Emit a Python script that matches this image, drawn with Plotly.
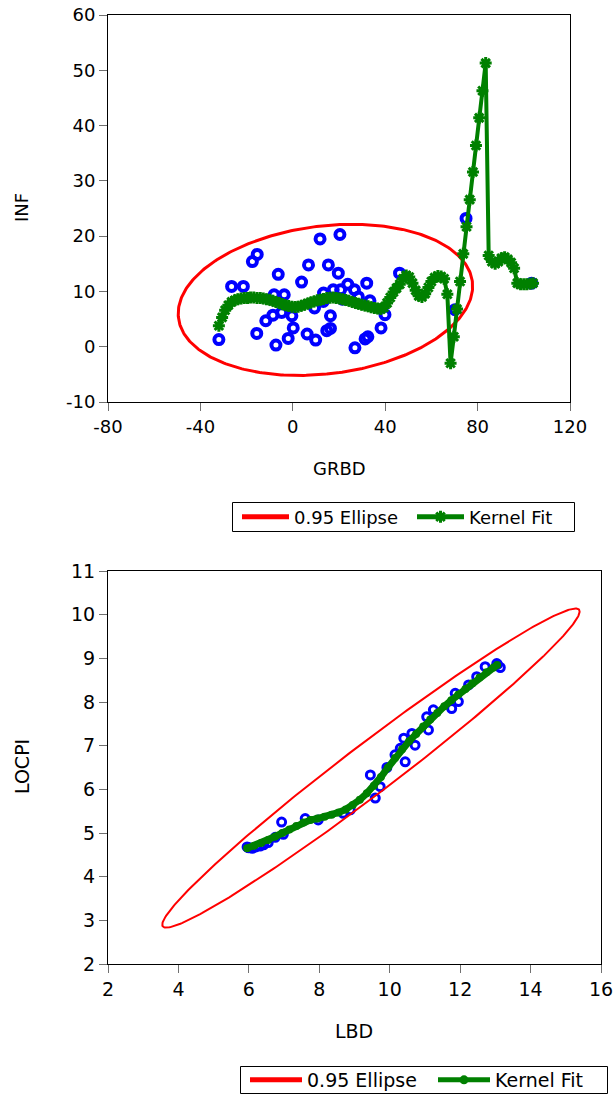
import numpy as np
import plotly.graph_objects as go

# ---------------- Top panel data (GRBD vs INF) ----------------
grbd = [-32.0, -26.5, -21.4, -17.5, -15.4, -15.6, -11.7, -8.6, -8.1, -7.3,
        -6.3, -4.8, -3.7, -2.0, -0.4, 0.2, 3.8, 6.2, 6.8, 9.4,
        9.9, 11.8, 13.3, 14.7, 15.4, 16.3, 16.3, 17.5, 19.7, 20.4,
        20.7, 23.8, 26.7, 26.9, 28.4, 31.3, 32.5, 32.0, 33.4, 38.2,
        39.9, 46.2, 70.2, 75.0, 103.4, 13.2, 21.5]
inf = [1.3, 10.9, 10.9, 15.4, 16.7, 2.4, 4.7, 5.7, 9.4, 0.3,
       13.1, 6.2, 9.4, 1.5, 5.6, 3.4, 11.7, 2.3, 14.8, 7.0,
       1.2, 19.5, 9.7, 2.9, 14.8, 3.3, 5.6, 10.3, 13.3, 20.3,
       10.3, 11.3, 10.3, -0.2, 9.0, 1.4, 1.8, 11.5, 8.3, 3.4,
       5.8, 13.3, 6.7, 23.2, 11.5, 8.2, 8.6]

kernel_x_top = [-32.0, -30.6, -29.3, -27.9, -26.5, -25.1, -23.8, -22.4, -21.0, -19.6,
                -18.3, -16.9, -15.5, -14.1, -12.8, -11.4, -10.0, -8.6, -7.3, -5.9,
                -4.5, -3.2, -1.8, -0.4, 1.0, 2.3, 3.7, 5.1, 6.5, 7.8,
                9.2, 10.6, 12.0, 13.3, 14.7, 16.1, 17.5, 18.8, 20.2, 21.6,
                22.9, 24.3, 25.7, 27.1, 28.4, 29.8, 31.2, 32.6, 33.9, 35.3,
                36.7, 38.1, 39.4, 40.8, 42.2, 43.6, 44.9, 46.3, 47.7, 49.1,
                50.4, 51.8, 53.2, 54.5, 55.9, 57.3, 58.7, 60.0, 61.4, 62.8,
                64.2, 65.5, 66.9, 68.3, 69.7, 71.1, 72.4, 73.8, 75.2, 76.6,
                78.0, 79.3, 80.7, 82.1, 83.5, 84.8, 86.2, 87.6, 89.0, 90.3,
                91.7, 93.1, 94.5, 95.8, 97.2, 98.6, 100.0, 101.3, 102.7, 104.0]
kernel_y_top = [3.8, 5.3, 6.6, 7.5, 8.1, 8.4, 8.6, 8.7, 8.8, 8.8,
                8.9, 8.9, 8.8, 8.8, 8.7, 8.6, 8.5, 8.3, 8.1, 7.9,
                7.7, 7.5, 7.35, 7.25, 7.2, 7.25, 7.4, 7.6, 7.8, 8.0,
                8.2, 8.4, 8.5, 8.65, 8.8, 8.85, 8.9, 8.8, 8.7, 8.6,
                8.45, 8.3, 8.1, 7.9, 7.75, 7.6, 7.45, 7.3, 7.15, 7.0,
                6.9, 6.8, 7.1, 7.9, 8.9, 9.9, 10.6, 11.3, 12.3, 12.9,
                12.6, 11.5, 10.2, 9.2, 9.0, 9.6, 10.7, 11.8, 12.5, 12.8,
                12.7, 12.3, 9.5, -3.0, 1.8, 6.8, 11.8, 16.8, 21.7, 26.6,
                31.6, 36.4, 41.4, 46.3, 51.3, 16.5, 15.4, 15.0, 15.4, 16.0,
                16.2, 15.8, 15.2, 14.2, 11.5, 11.3, 11.3, 11.3, 11.4, 11.5]

# ---------------- Bottom panel data (LBD vs LOCPI) ----------------
lbd = [5.95, 5.98, 6.00, 6.10, 6.20, 6.32, 6.42, 6.55, 6.75, 6.93,
       6.98, 7.60, 7.97, 8.68, 8.88, 9.45, 9.59, 9.73, 9.92, 10.15,
       10.30, 10.40, 10.44, 10.63, 10.72, 11.05, 11.10, 11.24, 11.76, 11.86,
       11.95, 12.24, 12.47, 12.71, 13.04, 13.06, 13.14]
locpi = [4.68, 4.67, 4.66, 4.65, 4.68, 4.70, 4.73, 4.78, 4.90, 5.25,
         4.97, 5.33, 5.30, 5.45, 5.53, 6.33, 5.80, 6.06, 6.50, 6.79,
         6.94, 7.17, 6.63, 7.28, 7.01, 7.66, 7.36, 7.82, 7.85, 8.20,
         8.01, 8.39, 8.58, 8.81, 8.88, 8.86, 8.79]

kernel_x_bot = [5.95, 6.15, 6.35, 6.55, 6.75, 6.95, 7.15, 7.35, 7.55, 7.75,
                7.95, 8.15, 8.35, 8.55, 8.75, 8.95, 9.15, 9.35, 9.55, 9.75,
                9.95, 10.15, 10.35, 10.55, 10.75, 10.95, 11.15, 11.35, 11.55, 11.75,
                11.95, 12.15, 12.35, 12.55, 12.75, 12.95, 13.05]
kernel_y_bot = [4.65, 4.71, 4.77, 4.84, 4.92, 5.00, 5.08, 5.16, 5.24, 5.30,
                5.33, 5.37, 5.42, 5.47, 5.54, 5.64, 5.76, 5.91, 6.08, 6.28,
                6.50, 6.72, 6.92, 7.10, 7.27, 7.44, 7.60, 7.75, 7.90, 8.04,
                8.17, 8.30, 8.43, 8.56, 8.68, 8.79, 8.85]

top_x_ticks = [-80, -40, 0, 40, 80, 120]
top_y_ticks = [-10, 0, 10, 20, 30, 40, 50, 60]
bot_x_ticks = [2, 4, 6, 8, 10, 12, 14, 16]
bot_y_ticks = [2, 3, 4, 5, 6, 7, 8, 9, 10, 11]

CHI2_95_2DF = 5.991

RED = "#FF0000"
GREEN = "#008000"
BLUE = "#0000FF"


def conf_ellipse(xs, ys, chi2=CHI2_95_2DF, n=361):
    xs = np.asarray(xs, float)
    ys = np.asarray(ys, float)
    cov = np.cov(xs, ys)
    vals, vecs = np.linalg.eigh(cov)
    t = np.linspace(0, 2 * np.pi, n)
    circ = np.vstack([np.cos(t), np.sin(t)]) * np.sqrt(vals * chi2)[:, None]
    pts = vecs @ circ
    return xs.mean() + pts[0], ys.mean() + pts[1]


def labels(vals):
    return [str(v) for v in vals]  # plain hyphen-minus like the original


W, H = 615, 1094
FONT = "DejaVu Sans, Liberation Sans, Arial, sans-serif"
FS = 18
FS2 = 19

ex1, ey1 = conf_ellipse(grbd, inf)
ex2, ey2 = conf_ellipse(lbd, locpi)

fig = go.Figure()

# ---- top panel ----
fig.add_trace(go.Scatter(x=grbd, y=inf, mode="markers", showlegend=False,
                         marker=dict(symbol="circle-open", size=9, color=BLUE,
                                     line=dict(width=4, color=BLUE)),
                         xaxis="x", yaxis="y"))
fig.add_trace(go.Scatter(x=ex1, y=ey1, mode="lines", showlegend=False,
                         line=dict(color=RED, width=3), xaxis="x", yaxis="y"))
fig.add_trace(go.Scatter(x=kernel_x_top, y=kernel_y_top, mode="lines+markers",
                         showlegend=False,
                         line=dict(color=GREEN, width=4),
                         marker=dict(symbol="asterisk-open", size=10,
                                     line=dict(width=3, color=GREEN)),
                         xaxis="x", yaxis="y"))
# legend keys (thicker strokes as in the original legend box)
fig.add_trace(go.Scatter(x=[None], y=[None], mode="lines", name="0.95 Ellipse",
                         line=dict(color=RED, width=5), legend="legend",
                         xaxis="x", yaxis="y"))
fig.add_trace(go.Scatter(x=[None], y=[None], mode="lines+markers", name="Kernel Fit",
                         line=dict(color=GREEN, width=5), legend="legend",
                         marker=dict(symbol="asterisk-open", size=10,
                                     line=dict(width=3, color=GREEN)),
                         xaxis="x", yaxis="y"))

# ---- bottom panel ----
fig.add_trace(go.Scatter(x=lbd, y=locpi, mode="markers", showlegend=False,
                         marker=dict(symbol="circle-open", size=8, color=BLUE,
                                     line=dict(width=3, color=BLUE)),
                         xaxis="x2", yaxis="y2"))
fig.add_trace(go.Scatter(x=ex2, y=ey2, mode="lines", showlegend=False,
                         line=dict(color=RED, width=2), xaxis="x2", yaxis="y2"))
fig.add_trace(go.Scatter(x=kernel_x_bot, y=kernel_y_bot, mode="lines+markers",
                         showlegend=False,
                         line=dict(color=GREEN, width=7),
                         marker=dict(symbol="circle", size=8, color=GREEN),
                         xaxis="x2", yaxis="y2"))
fig.add_trace(go.Scatter(x=[None], y=[None], mode="lines", name="0.95 Ellipse",
                         line=dict(color=RED, width=5), legend="legend2",
                         xaxis="x2", yaxis="y2"))
fig.add_trace(go.Scatter(x=[None], y=[None], mode="lines+markers", name="Kernel Fit",
                         line=dict(color=GREEN, width=5), legend="legend2",
                         marker=dict(symbol="circle", size=9, color=GREEN),
                         xaxis="x2", yaxis="y2"))

axis_common = dict(showline=True, mirror=True, linecolor="black", linewidth=1,
                   ticks="outside", tickcolor="#707070", ticklen=8, tickwidth=1,
                   showgrid=False, zeroline=False)

legend_common = dict(orientation="h", borderwidth=0, bgcolor="rgba(0,0,0,0)",
                     xanchor="left", yanchor="middle", entrywidthmode="pixels")

fig.update_layout(
    width=W, height=H,
    margin=dict(l=0, r=0, t=0, b=0, autoexpand=False),
    paper_bgcolor="white", plot_bgcolor="white",
    font=dict(family=FONT, size=FS, color="black"),
    xaxis=dict(domain=[108 / W, 570 / W], range=[-80, 120], tickvals=top_x_ticks,
               ticktext=labels(top_x_ticks), anchor="y",
               tickfont=dict(family=FONT, size=FS, color="black"), **axis_common),
    yaxis=dict(domain=[1 - 402 / H, 1 - 15 / H], range=[-10, 60], tickvals=top_y_ticks,
               ticktext=labels(top_y_ticks), anchor="x",
               tickfont=dict(family=FONT, size=FS, color="black"), **axis_common),
    xaxis2=dict(domain=[108 / W, 601 / W], range=[2, 16], tickvals=bot_x_ticks,
                ticktext=labels(bot_x_ticks), anchor="y2",
                tickfont=dict(family=FONT, size=FS2, color="black"), **axis_common),
    yaxis2=dict(domain=[1 - 964 / H, 1 - 571 / H], range=[2, 11], tickvals=bot_y_ticks,
                ticktext=labels(bot_y_ticks), anchor="x2",
                tickfont=dict(family=FONT, size=FS2, color="black"), **axis_common),
    legend=dict(x=237 / W, y=1 - 517 / H, itemwidth=47, entrywidth=113,
                font=dict(family=FONT, size=FS, color="black"), **legend_common),
    legend2=dict(x=245 / W, y=1 - 1080 / H, itemwidth=52, entrywidth=121,
                 font=dict(family=FONT, size=FS2, color="black"), **legend_common),
    shapes=[
        dict(type="rect", xref="paper", yref="paper",
             x0=232.5 / W, x1=574.5 / W, y0=1 - 531.5 / H, y1=1 - 502.5 / H,
             line=dict(color="black", width=1), fillcolor="rgba(0,0,0,0)", layer="below"),
        dict(type="rect", xref="paper", yref="paper",
             x0=240.5 / W, x1=607.5 / W, y0=1 - 1093.5 / H, y1=1 - 1066.5 / H,
             line=dict(color="black", width=1), fillcolor="rgba(0,0,0,0)", layer="below"),
    ],
    annotations=[
        dict(text="INF", x=22 / W, y=1 - 208 / H, xref="paper", yref="paper",
             xanchor="center", yanchor="middle",
             textangle=-90, showarrow=False, font=dict(family=FONT, size=FS)),
        dict(text="GRBD", x=339 / W, y=1 - 468 / H, xref="paper", yref="paper",
             xanchor="center", yanchor="middle",
             showarrow=False, font=dict(family=FONT, size=FS)),
        dict(text="LOCPI", x=22 / W, y=1 - 767 / H, xref="paper", yref="paper",
             xanchor="center", yanchor="middle",
             textangle=-90, showarrow=False, font=dict(family=FONT, size=FS2)),
        dict(text="LBD", x=354 / W, y=1 - 1031 / H, xref="paper", yref="paper",
             xanchor="center", yanchor="middle",
             showarrow=False, font=dict(family=FONT, size=FS2)),
    ],
)

fig.write_html(
    "out.html",
    config={"displayModeBar": False},
    post_script="document.body.style.margin='0';document.body.style.padding='0';"
                "document.body.style.overflow='hidden';",
)
